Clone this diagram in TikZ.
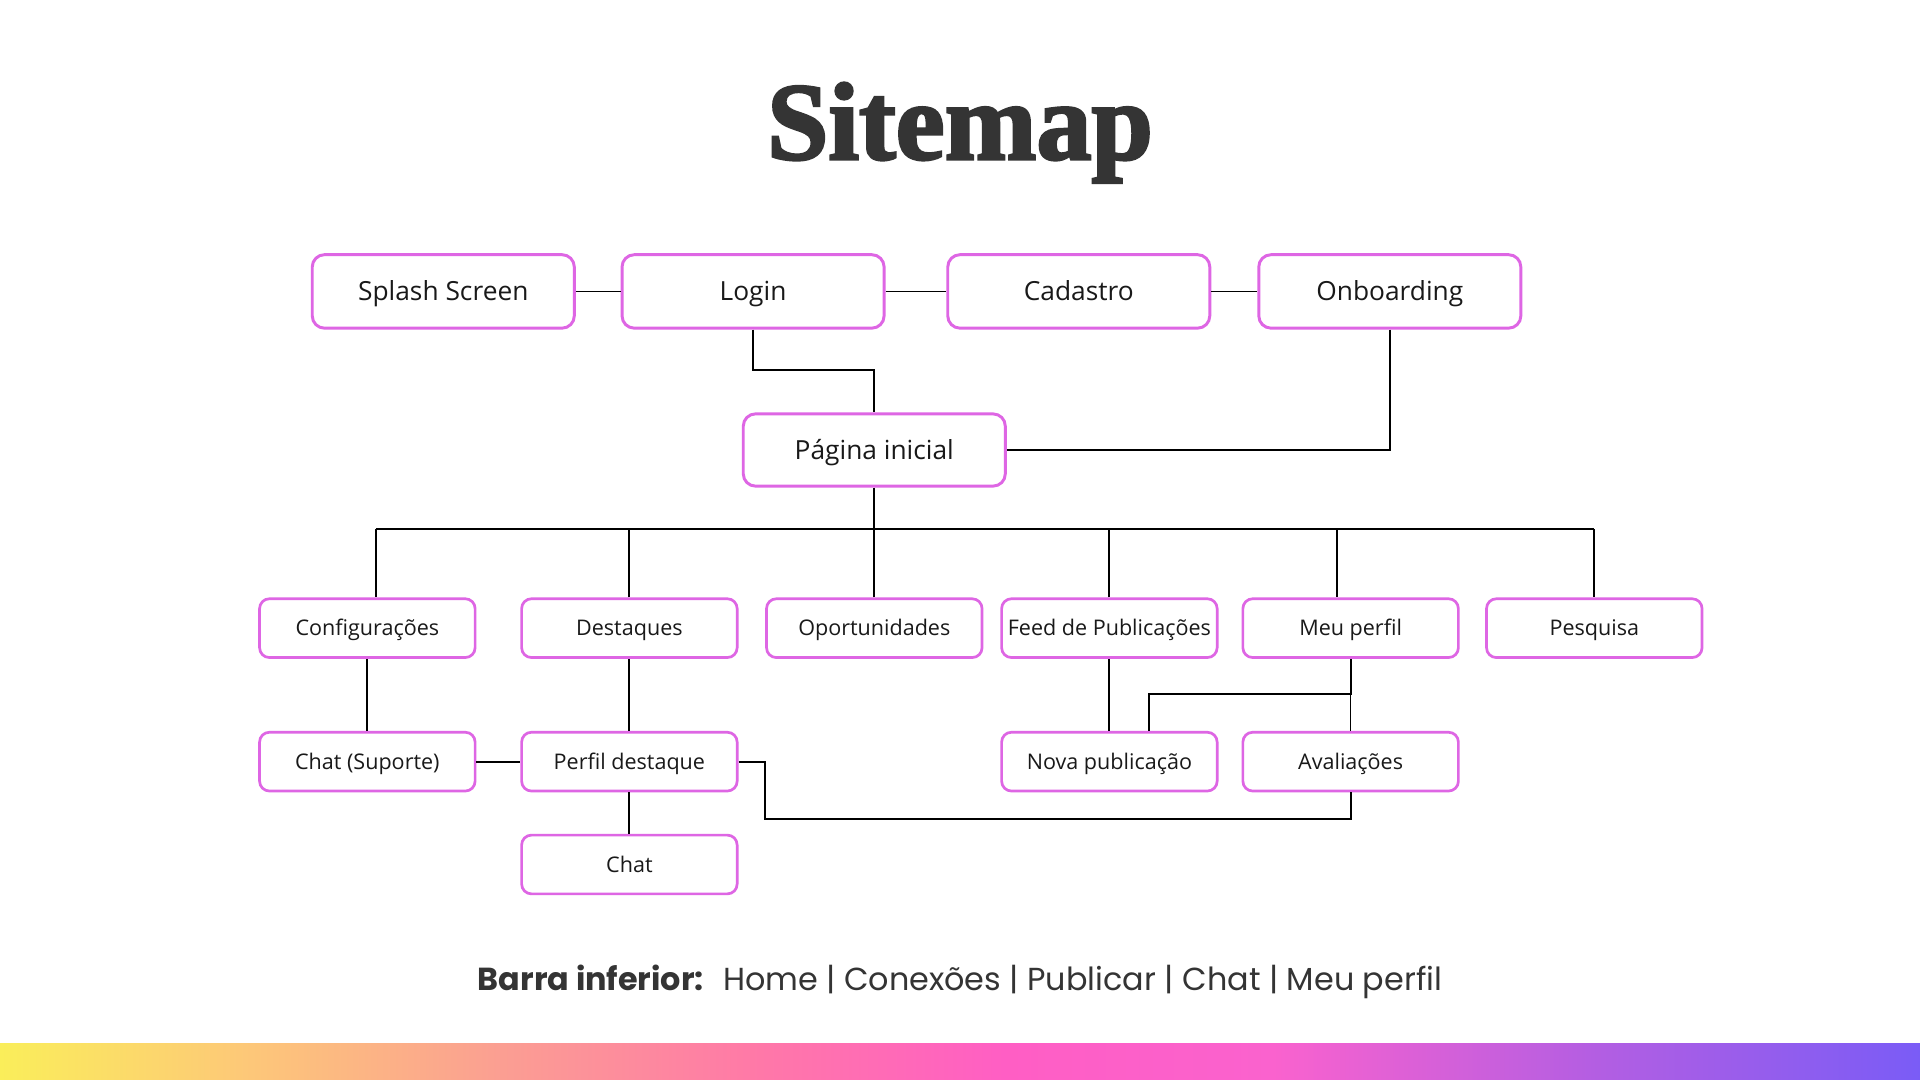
\documentclass[tikz,border=0pt]{standalone}
\usepackage{fontspec}
\setmainfont{Open Sans}
\newfontfamily\barfont{Poppins}
\newfontfamily\titlefont{Liberation Serif}[BoldFeatures={FakeBold=2.5}]
\usetikzlibrary{calc}
\definecolor{boxpink}{RGB}{222,102,228}
\definecolor{ink}{RGB}{52,52,52}
\definecolor{gA}{RGB}{250,238,90}
\definecolor{gB}{RGB}{253,200,120}
\definecolor{gC}{RGB}{251,160,145}
\definecolor{gD}{RGB}{255,120,168}
\definecolor{gE}{RGB}{255,94,196}
\definecolor{gF}{RGB}{250,98,206}
\definecolor{gG}{RGB}{180,94,226}
\definecolor{gH}{RGB}{122,92,246}
\tikzset{
  bigbox/.style={draw=boxpink, line width=2.4pt, rounded corners=10pt, fill=white,
    minimum width=214pt, minimum height=60pt, inner sep=0pt,
    text height=15.4pt, text depth=0pt,
    font=\fontsize{21.5}{24}\selectfont, text=black!90},
  smallbox/.style={draw=boxpink, line width=2.2pt, rounded corners=8pt, fill=white,
    minimum width=176pt, minimum height=48pt, inner sep=0pt,
    text height=12.6pt, text depth=0pt,
    font=\fontsize{17.6}{20}\selectfont, text=black!90},
  link/.style={draw=black, line width=1.5pt}
}
\begin{document}
\begin{tikzpicture}[x=1pt,y=-1pt]
\useasboundingbox (0,0) rectangle (1568,882);
\fill[white] (0,0) rectangle (1568,882);
% title
\node[anchor=base, text=ink, font=\titlefont\bfseries\fontsize{90}{92}\selectfont] (title) at (784,130) {Sitemap};
% top row
\node[bigbox] (splash) at (362,238) {Splash Screen};
\node[bigbox] (login) at (615,238) {Login};
\node[bigbox] (cad) at (881,238) {Cadastro};
\node[bigbox] (onb) at (1135,238) {Onboarding};
\node[bigbox, minimum height=59pt] (home) at (714,367.5) {Página inicial};
% row 2
\node[smallbox] (cfg) at (300,513) {Configurações};
\node[smallbox] (dest) at (514,513) {Destaques};
\node[smallbox] (opor) at (714,513) {Oportunidades};
\node[smallbox] (feed) at (906,513) {Feed de Publicações};
\node[smallbox] (meu) at (1103,513) {Meu perfil};
\node[smallbox] (pesq) at (1302,513) {Pesquisa};
% row 3
\node[smallbox] (chats) at (300,622) {Chat (Suporte)};
\node[smallbox] (perf) at (514,622) {Perfil destaque};
\node[smallbox] (nova) at (906,622) {Nova publicação};
\node[smallbox] (aval) at (1103,622) {Avaliações};
% row 4
\node[smallbox] (chat) at (514,706) {Chat};
% connectors top
\draw[link] (splash) -- (login);
\draw[link] (login) -- (cad);
\draw[link] (cad) -- (onb);
\coordinate (lj) at (615,302);
\draw[link] (login.south) -- (lj) -| (home.north);
\draw[link] (onb.south) |- (home.east);
% bus
\coordinate (bus) at (714,432);
\coordinate (bl) at (307,432);
\coordinate (br) at (1302,432);
\coordinate (bm) at (1092,432);
\draw[link] (home.south) -- (bus);
\draw[link] (bl) -- (br);
\draw[link] (bl) -- (bl |- cfg.north);
\draw[link] (dest.north) -- (dest.north |- bus);
\draw[link] (opor.north) -- (opor.north |- bus);
\draw[link] (feed.north) -- (feed.north |- bus);
\draw[link] (bm) -- (bm |- meu.north);
\draw[link] (br) -- (pesq.north);
% lower connectors
\draw[link] (cfg) -- (chats);
\draw[link] (chats) -- (perf);
\draw[link] (dest) -- (perf);
\draw[link] (perf) -- (chat);
\draw[link] (feed) -- (nova);
\draw[link, line width=1pt] (meu) -- (aval);
\coordinate (mj) at (1103,567);
\coordinate (nj) at (938,567);
\draw[link] (meu.south) -- (mj) -- (nj) -- (nj |- nova.north);
\coordinate (pa) at (625,622);
\coordinate (pb) at (625,669);
\draw[link] (perf.east) -- (pa) -- (pb) -| (aval.south);
% bottom text
\node[anchor=base, text=ink, font=\barfont\fontsize{26}{28}\selectfont, inner sep=0pt] (barra) at (784,809)
  {\textbf{Barra inferior:}\hspace{0.6em}Home | Conexões | Publicar | Chat | Meu perfil};
% gradient bar
\shade[left color=gA, right color=gB] (0,852) rectangle (200.5,882);
\shade[left color=gB, right color=gC] (200,852) rectangle (400.5,882);
\shade[left color=gC, right color=gD] (400,852) rectangle (620.5,882);
\shade[left color=gD, right color=gE] (620,852) rectangle (820.5,882);
\shade[left color=gE, right color=gF] (820,852) rectangle (1040.5,882);
\shade[left color=gF, right color=gG] (1040,852) rectangle (1300.5,882);
\shade[left color=gG, right color=gH] (1300,852) rectangle (1568,882);
\end{tikzpicture}
\end{document}
